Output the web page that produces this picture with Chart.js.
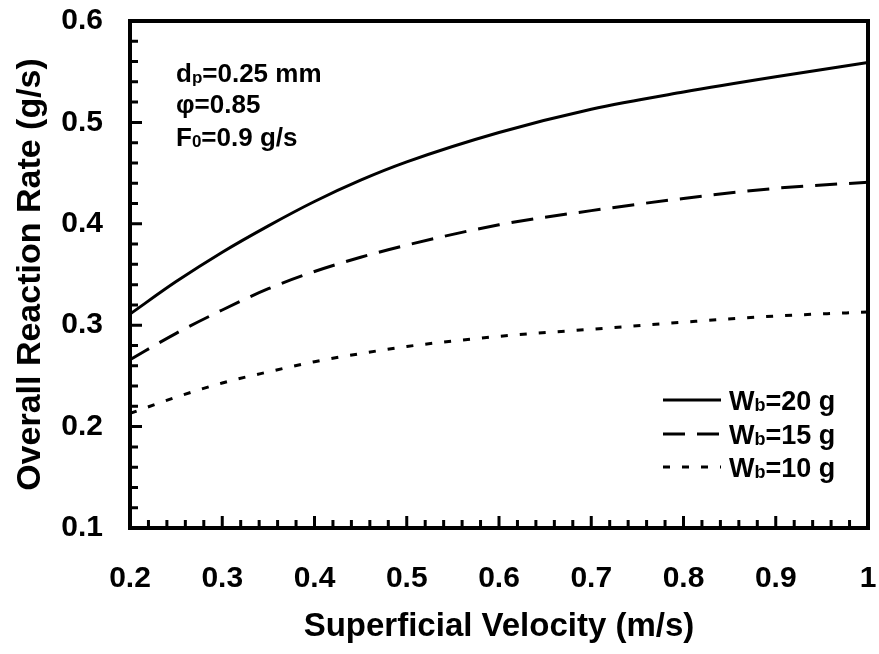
<!DOCTYPE html>
<html>
<head>
<meta charset="utf-8">
<script src="https://cdn.jsdelivr.net/npm/chart.js@4.4.1/dist/chart.umd.min.js"></script>
<style>
  html, body { margin: 0; padding: 0; background: #fff; }
  canvas { display: block; }
</style>
</head>
<body>
<canvas id="rateChart" width="879" height="654"></canvas>
<script>
// data
var velocity = [0.2, 0.25, 0.3, 0.35, 0.4, 0.45, 0.5, 0.6, 0.7, 0.8, 0.9, 1.0];
var rateW20 = [0.311, 0.343, 0.372, 0.398, 0.422, 0.443, 0.461, 0.490, 0.513, 0.530, 0.545, 0.559];
var rateW15 = [0.266, 0.292, 0.315, 0.336, 0.353, 0.367, 0.379, 0.399, 0.413, 0.425, 0.435, 0.441];
var rateW10 = [0.213, 0.229, 0.243, 0.254, 0.264, 0.272, 0.279, 0.289, 0.296, 0.303, 0.309, 0.313];
var seriesNames = ['20 g', '15 g', '10 g'];
var xTicks = [0.2, 0.3, 0.4, 0.5, 0.6, 0.7, 0.8, 0.9, 1];
var yTicks = [0.1, 0.2, 0.3, 0.4, 0.5, 0.6];
var noteLines = [['d', 'p', '=0.25 mm'], ['\u03c6=0.85', '', ''], ['F', '0', '=0.9 g/s']];

var FONT = '"Liberation Sans", Arial, sans-serif';

function toPoints(ys) {
    return velocity.map(function (v, i) { return { x: v, y: ys[i] }; });
}

var dashes = [[], [22, 12], [7, 12]];

// draws the box, inward ticks, legend and the parameter note
var framePlugin = {
    id: 'frame',
    afterDraw: function (chart) {
        var ctx = chart.ctx;
        var area = chart.chartArea;
        var xs = chart.scales.x, ys = chart.scales.y;
        ctx.save();
        ctx.strokeStyle = '#000';
        ctx.lineWidth = 4;
        ctx.lineJoin = 'miter';
        ctx.strokeRect(area.left, area.top, area.right - area.left, area.bottom - area.top);

        // minor + major ticks
        ctx.lineWidth = 3;
        ctx.beginPath();
        for (var i = 1; i < 40; i++) {
            var px = xs.getPixelForValue(0.2 + i * 0.02);
            var len = (i % 5 === 0) ? 12 : 8;
            ctx.moveTo(px, area.bottom);
            ctx.lineTo(px, area.bottom - len);
        }
        for (var j = 1; j < 25; j++) {
            var py = ys.getPixelForValue(0.1 + j * 0.02);
            var ylen = (j % 5 === 0) ? 12 : 8;
            ctx.moveTo(area.left, py);
            ctx.lineTo(area.left + ylen, py);
        }
        ctx.stroke();

        // legend
        ctx.fillStyle = '#000';
        ctx.textBaseline = 'alphabetic';
        ctx.textAlign = 'left';
        var rowY = [400, 434, 467];
        chart.data.datasets.forEach(function (ds, k) {
            ctx.setLineDash(ds.borderDash || []);
            ctx.lineWidth = 3;
            ctx.beginPath();
            ctx.moveTo(663, rowY[k]);
            ctx.lineTo(721, rowY[k]);
            ctx.stroke();
            ctx.setLineDash([]);
            var x = 729, base = rowY[k] + 10;
            ctx.font = 'bold 27px ' + FONT;
            ctx.fillText('W', x, base);
            x += ctx.measureText('W').width;
            ctx.font = 'bold 18px ' + FONT;
            ctx.fillText('b', x, base + 1);
            x += ctx.measureText('b').width;
            ctx.font = 'bold 27px ' + FONT;
            ctx.fillText('=' + seriesNames[k], x, base);
        });

        // parameter note
        var noteY = [82, 113, 146];
        noteLines.forEach(function (parts, k) {
            var x = 176;
            ctx.font = 'bold 26px ' + FONT;
            ctx.fillText(parts[0], x, noteY[k]);
            x += ctx.measureText(parts[0]).width;
            if (parts[1]) {
                ctx.font = 'bold 17px ' + FONT;
                ctx.fillText(parts[1], x, noteY[k] + 1);
                x += ctx.measureText(parts[1]).width;
            }
            ctx.font = 'bold 26px ' + FONT;
            ctx.fillText(parts[2], x, noteY[k]);
        });
        ctx.restore();
    }
};

var ctx = document.getElementById('rateChart');
var chart = new Chart(ctx, {
    type: 'line',
    data: {
        datasets: [rateW20, rateW15, rateW10].map(function (ys, k) {
            return {
                label: 'Wb=' + seriesNames[k],
                data: toPoints(ys),
                borderColor: '#000',
                borderWidth: 3,
                borderDash: dashes[k],
                pointRadius: 0,
                fill: false,
                cubicInterpolationMode: 'monotone'
            };
        })
    },
    options: {
        responsive: false,
        animation: false,
        layout: { padding: { top: 21, right: 11, left: 0, bottom: 0 } },
        plugins: {
            legend: { display: false },
            tooltip: { enabled: false }
        },
        scales: {
            x: {
                type: 'linear',
                min: 0.2,
                max: 1,
                afterBuildTicks: function (scale) {
                    scale.ticks = xTicks.map(function (v) { return { value: v }; });
                },
                afterFit: function (scale) {
                    scale.height = 126;
                    scale.paddingLeft = 0;
                    scale.paddingRight = 0;
                },
                grid: { display: false, drawTicks: false },
                border: { display: false },
                ticks: {
                    color: '#000',
                    padding: 33,
                    maxRotation: 0,
                    font: { family: FONT, size: 30, weight: 'bold' },
                    callback: function (v) { return v === 1 ? '1' : v.toFixed(1); }
                },
                title: {
                    display: true,
                    text: 'Superficial Velocity (m/s)',
                    color: '#000',
                    padding: { top: 0, bottom: 7 },
                    font: { family: FONT, size: 33, weight: 'bold' }
                }
            },
            y: {
                min: 0.1,
                max: 0.6,
                afterBuildTicks: function (scale) {
                    scale.ticks = yTicks.map(function (v) { return { value: v }; });
                },
                afterFit: function (scale) {
                    scale.width = 130;
                    scale.paddingTop = 0;
                    scale.paddingBottom = 0;
                },
                grid: { display: false, drawTicks: false },
                border: { display: false },
                ticks: {
                    color: '#000',
                    padding: 27,
                    font: { family: FONT, size: 30, weight: 'bold' },
                    callback: function (v) { return v.toFixed(1); }
                },
                title: {
                    display: true,
                    text: 'Overall Reaction Rate (g/s)',
                    color: '#000',
                    padding: { top: 10, bottom: 0 },
                    font: { family: FONT, size: 34, weight: 'bold' }
                }
            }
        }
    },
    plugins: [framePlugin]
});
</script>
</body>
</html>
